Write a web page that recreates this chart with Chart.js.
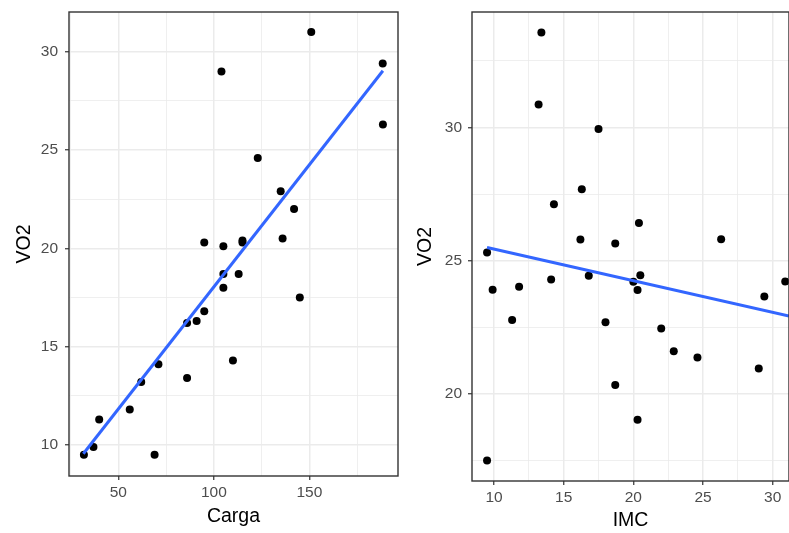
<!DOCTYPE html>
<html>
<head>
<meta charset="utf-8">
<script src="https://cdn.jsdelivr.net/npm/chart.js@4"></script>
<style>
  html, body { margin: 0; padding: 0; background: #fff; }
  #wrap { position: relative; width: 789px; height: 533px; overflow: hidden; }
  canvas { position: absolute; top: 0; }
  #left { left: 0; }
  #right { left: 400px; }
</style>
</head>
<body>
<div id="wrap">
  <canvas id="left" width="400" height="533"></canvas>
  <canvas id="right" width="389" height="533"></canvas>
</div>
<script>
// Panel 1: VO2 vs Carga
const carga = [151, 188.4, 104, 188.5, 123, 135, 142, 95, 105, 115, 115, 136, 105, 113,
               105, 145, 95, 91, 86, 110, 71, 86, 62, 56, 40, 37, 32, 69];
const vo2Carga = [31.0, 29.4, 29.0, 26.3, 24.6, 22.9, 22.0, 20.3, 20.1, 20.4, 20.3, 20.5, 18.7, 18.7,
                  18.0, 17.5, 16.8, 16.3, 16.2, 14.3, 14.1, 13.4, 13.2, 11.8, 11.3, 9.9, 9.5, 9.5];
// fitted line ends
const cargaFitX = [31.7, 188.5];
const cargaFitY = [9.55, 29.03];

// Panel 2: VO2 vs IMC
const imc = [13.4, 13.2, 17.5, 16.3, 14.3, 20.4, 16.2, 18.7, 26.3, 9.5, 9.9, 11.3, 11.8, 14.1,
             16.8, 18.0, 18.7, 20.0, 20.5, 20.3, 20.3, 22.0, 22.9, 24.6, 29.0, 29.4, 30.9, 9.5];
const vo2Imc = [33.56, 30.86, 29.94, 27.68, 27.12, 26.42, 25.8, 25.65, 25.81, 25.31, 23.91, 22.78, 24.03, 24.3,
                24.44, 22.69, 20.34, 24.21, 24.46, 23.9, 19.04, 22.46, 21.61, 21.37, 20.96, 23.66, 24.22, 17.51];
const imcFitX = [9.5, 31.17];
const imcFitY = [25.5, 22.93];

const FONT = "'Liberation Sans', Arial, sans-serif";

function pairs(xs, ys) {
  return xs.map((x, i) => ({ x: x, y: ys[i] }));
}

function isMajor(v, step) {
  return Math.abs(v / step - Math.round(v / step)) < 1e-6;
}

// ggplot theme_bw look: major + minor grid, ticks only on majors
function axis(min, max, minorStep, majorStep, title, titlePad, fitSize, tickPad, horizontal) {
  return {
    type: "linear",
    min: min,
    max: max,
    border: { display: false },
    grid: {
      color: "#EBEBEB",
      lineWidth: c => isMajor(c.tick.value, majorStep) ? 1.5 : 0.8,
      tickColor: c => isMajor(c.tick.value, majorStep) ? "#333333" : "rgba(0,0,0,0)",
      tickLength: 4,
      tickWidth: 1.2
    },
    ticks: {
      stepSize: minorStep,
      includeBounds: false,
      autoSkip: false,
      maxRotation: 0,
      padding: tickPad,
      color: "#4D4D4D",
      font: { family: FONT, size: 15.5 },
      callback: v => isMajor(v, majorStep) ? String(Math.round(v)) : ""
    },
    title: {
      display: true,
      text: title,
      color: "#000000",
      font: { family: FONT, size: 19.5, lineHeight: 1 },
      padding: horizontal ? { top: 0, bottom: titlePad } : { top: titlePad, bottom: 0 }
    },
    afterFit: s => {
      if (horizontal) s.height = fitSize; else s.width = fitSize;
      // keep the panel exactly where the layout padding puts it
      s.paddingLeft = 0; s.paddingRight = 0;
      s.paddingTop = 0; s.paddingBottom = 0;
    }
  };
}

const panelBorder = {
  id: "panelBorder",
  afterDraw(chart) {
    const a = chart.chartArea;
    const ctx = chart.ctx;
    ctx.save();
    ctx.strokeStyle = "#333333";
    ctx.lineWidth = 1.4;
    ctx.strokeRect(a.left, a.top, a.right - a.left, a.bottom - a.top);
    ctx.restore();
  }
};

function makeChart(id, xs, ys, fitX, fitY, xAxis, yAxis, padRight) {
  const ctx = document.getElementById(id).getContext("2d");
  return new Chart(ctx, {
    type: "scatter",
    data: {
      datasets: [
        {
          type: "line",
          data: pairs(fitX, fitY),
          borderColor: "#3366FF",
          borderWidth: 3,
          pointRadius: 0,
          fill: false
        },
        {
          data: pairs(xs, ys),
          backgroundColor: "#000000",
          borderWidth: 0,
          pointRadius: 4
        }
      ]
    },
    options: {
      responsive: false,
      animation: false,
      devicePixelRatio: 1,
      layout: { autoPadding: false, padding: { top: 12, right: padRight, left: 0, bottom: 0 } },
      plugins: { legend: { display: false }, tooltip: { enabled: false } },
      scales: { x: xAxis, y: yAxis }
    },
    plugins: [panelBorder]
  });
}

makeChart("left", carga, vo2Carga, cargaFitX, cargaFitY,
  axis(24.2, 196.4, 25, 50, "Carga", 6.75, 57, 3, true),
  axis(8.42, 32.02, 2.5, 5, "VO2", 14.5, 69, 7, false),
  2);

makeChart("right", imc, vo2Imc, imcFitX, imcFitY,
  axis(8.42, 31.17, 2.5, 5, "IMC", 2.75, 52, 3, true),
  axis(16.74, 34.33, 2.5, 5, "VO2", 16, 72, 6, false),
  0);
</script>
</body>
</html>
